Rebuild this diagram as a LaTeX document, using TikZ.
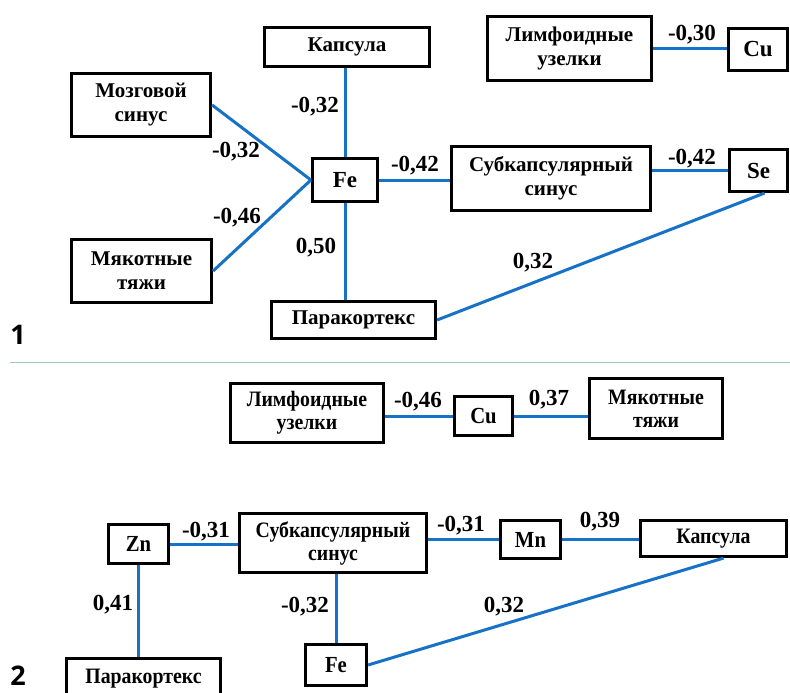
\documentclass[tikz,border=0pt]{standalone}
\usepackage{fontspec}
\setmainfont{Liberation Serif}
\newfontfamily\condserif[FakeStretch=0.9]{Liberation Serif}
\newfontfamily\numfont{Open Sans}
\usepackage{tikz}
\definecolor{linkblue}{RGB}{22,114,198}
\definecolor{sepgray}{RGB}{160,198,210}

\begin{document}
\begin{tikzpicture}[x=1pt,y=-1pt,
  box/.style={draw,line width=3.2pt,inner sep=0pt,align=center,
    font=\fontsize{21}{24}\selectfont\bfseries},
  elem/.style={box,font=\fontsize{23}{24}\selectfont\bfseries},
  boxb/.style={box,font=\fontsize{22}{23}\selectfont\condserif\bfseries},
  elemb/.style={box,font=\fontsize{23}{24}\selectfont\condserif\bfseries},
  link/.style={draw=linkblue,line width=3pt},
  coef/.style={font=\fontsize{23}{24}\selectfont\bfseries}]
\useasboundingbox (0,0) rectangle (790,693);
% 1
\node[box,minimum width=165,minimum height=39] (kaps1) at (347,47) {Капсула};
\node[box,minimum width=139,minimum height=63] (mozg) at (141,105) {Мозговой\\синус};
\node[elem,minimum width=65,minimum height=43] (fe1) at (345,180) {Fe};
\node[box,minimum width=140,minimum height=63] (myak1) at (141.5,271) {Мякотные\\тяжи};
\node[box,minimum width=164,minimum height=37] (para1) at (353.5,320) {Паракортекс};
\node[box,minimum width=199,minimum height=64] (sub1) at (551,178.5) {Субкапсулярный\\синус};
\node[elem,minimum width=58,minimum height=42] (se) at (758.5,170.5) {Se};
\node[box,minimum width=164,minimum height=64] (limf1) at (569.5,48.5) {Лимфоидные\\узелки};
\node[elem,minimum width=59,minimum height=42] (cu1) at (758,49.5) {Cu};
\draw[link] (fe1.north) -- (fe1.north |- kaps1.south);
\draw[link] (mozg.east) -- (fe1.west);
\draw[link] (myak1.east) -- (fe1.west);
\draw[link] (fe1.south) -- (fe1.south |- para1.north);
\draw[link] (fe1.east) -- (fe1.east -| sub1.west);
\draw[link] (se.west -| sub1.east) -- (se.west);
\draw[link] (limf1.east) -- (limf1.east -| cu1.west);
\draw[link] (para1.east) -- ([xshift=6]se.south);
\node[coef] (c1a) at (315,107) {-0,32};
\node[coef] (c1b) at (236,152) {-0,32};
\node[coef] (c1c) at (237,218) {-0,46};
\node[coef] (c1d) at (316,248) {0,50};
\node[coef] (c1e) at (415,166) {-0,42};
\node[coef] (c1f) at (692,159) {-0,42};
\node[coef] (c1g) at (692,35) {-0,30};
\node[coef] (c1h) at (533,263) {0,32};
\node[font=\fontsize{27}{30}\selectfont\numfont\bfseries] (num1) at (18,335) {1};
\draw[sepgray,line width=1pt] (10,362) -- (790,362);
% 2
\node[boxb,minimum width=153,minimum height=59] (limf2) at (307,413) {Лимфоидные\\узелки};
\node[elemb,minimum width=58,minimum height=39] (cu2) at (483.5,416) {Cu};
\node[boxb,minimum width=133,minimum height=60] (myak2) at (656,408.5) {Мякотные\\тяжи};
\node[elemb,minimum width=60,minimum height=39] (zn) at (138.5,544) {Zn};
\node[boxb,minimum width=187,minimum height=59] (sub2) at (333,543) {Субкапсулярный\\синус};
\node[elemb,minimum width=60,minimum height=38] (mn) at (530.5,539.5) {Mn};
\node[boxb,minimum width=146,minimum height=36] (kaps2) at (713.5,538.5) {Капсула};
\node[boxb,minimum width=154,minimum height=40] (para2) at (143.5,678.5) {Паракортекс};
\node[elemb,minimum width=61,minimum height=41] (fe2) at (336,665) {Fe};
\draw[link] (cu2.west -| limf2.east) -- (cu2.west);
\draw[link] (cu2.east) -- (cu2.east -| myak2.west);
\draw[link] (zn.east) -- (zn.east -| sub2.west);
\draw[link] (mn.west -| sub2.east) -- (mn.west);
\draw[link] (mn.east) -- (mn.east -| kaps2.west);
\draw[link] (zn.south) -- (zn.south |- para2.north);
\draw[link] (fe2.north |- sub2.south) -- (fe2.north);
\draw[link] (fe2.east) -- ([xshift=10]kaps2.south);
\node[coef] (c2a) at (418,402) {-0,46};
\node[coef] (c2b) at (549,400) {0,37};
\node[coef] (c2c) at (206,532) {-0,31};
\node[coef] (c2d) at (461,526) {-0,31};
\node[coef] (c2e) at (600,522) {0,39};
\node[coef] (c2f) at (113,605) {0,41};
\node[coef] (c2g) at (305,607) {-0,32};
\node[coef] (c2h) at (504,607) {0,32};
\node[font=\fontsize{27}{30}\selectfont\numfont\bfseries] (num2) at (18,676) {2};
\end{tikzpicture}
\end{document}
